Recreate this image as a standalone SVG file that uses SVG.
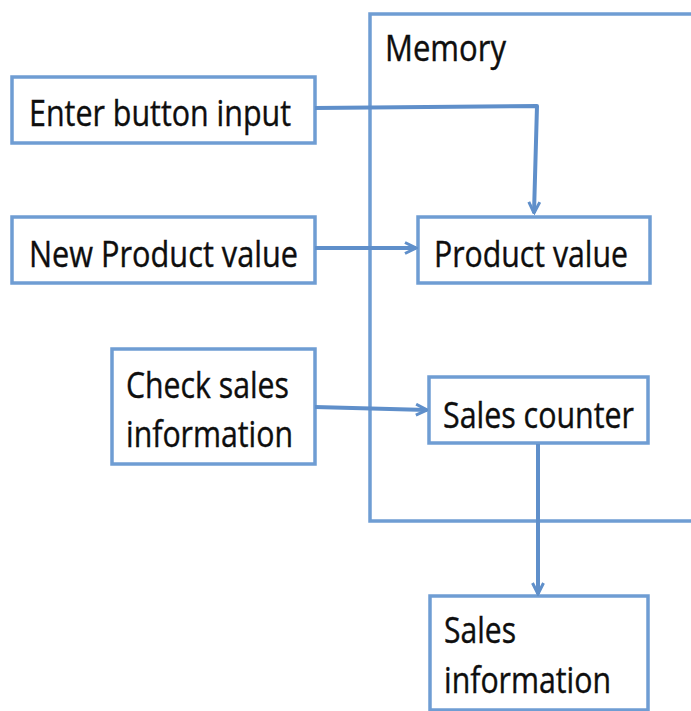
<svg xmlns="http://www.w3.org/2000/svg" width="691" height="711" viewBox="0 0 691 711">
  <style>
    .box { fill: #ffffff; stroke: #6f9dd3; stroke-width: 3.5; }
    .frame { fill: none; stroke: #6f9dd3; stroke-width: 3.5; }
    .conn { fill: none; stroke: #5f8fca; stroke-width: 4; stroke-linejoin: round; }
    .lbl { font-family: "Open Sans", "Noto Sans", "Liberation Sans", sans-serif; font-size: 37px; fill: #0e0e0e; stroke: #0e0e0e; stroke-width: 0.4; }
  </style>
  <defs>
    <marker id="open-arrow" viewBox="0 0 14 14" refX="12.5" refY="7" markerWidth="14" markerHeight="14" markerUnits="userSpaceOnUse" orient="auto">
      <path d="M1.5,1.5 L12.5,7 L1.5,12.5" fill="none" stroke="#5f8fca" stroke-width="3" stroke-linejoin="miter"/>
    </marker>
  </defs>

  <!-- memory region -->
  <g id="memory">
    <path class="frame" d="M693,14 H370 V521 H693"/>
    <text class="lbl" x="385" y="61" textLength="121" lengthAdjust="spacingAndGlyphs">Memory</text>
  </g>

  <g id="enter-button-input">
    <rect class="box" x="12" y="77" width="303" height="66"/>
    <text class="lbl" x="29" y="126" textLength="262" lengthAdjust="spacingAndGlyphs">Enter button input</text>
  </g>

  <g id="new-product-value">
    <rect class="box" x="12" y="217" width="303" height="66"/>
    <text class="lbl" x="29" y="267" textLength="269" lengthAdjust="spacingAndGlyphs">New Product value</text>
  </g>

  <g id="product-value">
    <rect class="box" x="418" y="217" width="232" height="66"/>
    <text class="lbl" x="434" y="267" textLength="194" lengthAdjust="spacingAndGlyphs">Product value</text>
  </g>

  <g id="check-sales-information">
    <rect class="box" x="112" y="349" width="203" height="115"/>
    <text class="lbl" x="126" y="398" textLength="163" lengthAdjust="spacingAndGlyphs">Check sales</text>
    <text class="lbl" x="126" y="447" textLength="167" lengthAdjust="spacingAndGlyphs">information</text>
  </g>

  <g id="sales-counter">
    <rect class="box" x="429" y="377" width="219" height="66"/>
    <text class="lbl" x="443" y="428" textLength="191" lengthAdjust="spacingAndGlyphs">Sales counter</text>
  </g>

  <g id="sales-information">
    <rect class="box" x="430" y="596" width="218" height="114"/>
    <text class="lbl" x="444" y="643" textLength="72" lengthAdjust="spacingAndGlyphs">Sales</text>
    <text class="lbl" x="444" y="693" textLength="167" lengthAdjust="spacingAndGlyphs">information</text>
  </g>

  <g id="connectors">
    <path class="conn" d="M315,108 L537,106 L534,213" marker-end="url(#open-arrow)"/>
    <path class="conn" d="M315,248 L416,248" marker-end="url(#open-arrow)"/>
    <path class="conn" d="M315,407 L427,410" marker-end="url(#open-arrow)"/>
    <path class="conn" d="M538,444 L538,594" marker-end="url(#open-arrow)"/>
  </g>
</svg>
